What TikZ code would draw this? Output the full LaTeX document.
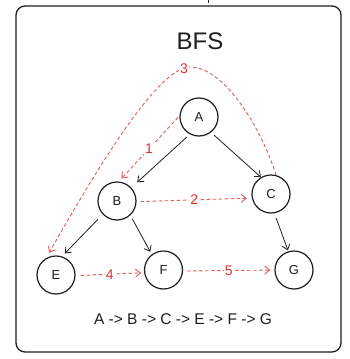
\documentclass[tikz,border=0pt]{standalone}
\usepackage{fontspec}
\setmainfont{Liberation Sans}
\usetikzlibrary{arrows.meta}
\definecolor{ink}{HTML}{1E1E1E}
\definecolor{redc}{HTML}{E03131}
\begin{document}
\begin{tikzpicture}[x=1pt,y=-1pt]
\tikzset{
 vert/.style={circle, draw=ink, line width=1.2pt, minimum size=38pt, inner sep=0pt, font=\fontsize{13}{15}\selectfont, text=ink},
 edge/.style={draw=ink, line width=0.8pt, -{Straight Barb[length=5pt,width=8pt]}},
 trav/.style={draw=redc!80, line width=0.9pt, dash pattern=on 3.5pt off 2.5pt, -{Straight Barb[length=5pt,width=8pt]}},
 num/.style={text=redc, fill=white, inner sep=1pt, font=\fontsize{14}{16}\selectfont},
}
\useasboundingbox (0,0) rectangle (350,359);
\fill[white] (0,0) rectangle (350,359);
\draw[ink, line width=1.3pt, rounded corners=9pt] (16,6) rectangle (341,352);
\draw[ink, line width=1pt] (208,0) -- (208,2.5);

\node[text=ink, font=\fontsize{24}{28}\selectfont] (title) at (200,41) {BFS};

\node[vert] (A) at (199,117) {A};
\node[vert] (B) at (117,201) {B};
\node[vert] (C) at (271,194) {C};
\node[vert] (E) at (56,275) {E};
\node[vert] (F) at (163.5,270) {F};
\node[vert] (G) at (294,270) {G};

\draw[edge, shorten <=4pt, shorten >=8pt] (A.242) -- (B.43);
\draw[edge, shorten <=4pt] (A.308) -- (C.121);
\draw[edge, shorten <=7pt, shorten >=4pt] (B.223) -- (E.72);
\draw[edge, shorten <=4pt, shorten >=3pt] (B.313) -- (F.127);
\draw[edge, shorten <=5pt, shorten >=1pt] (C.280) -- (G.107);

\draw[trav, shorten <=2pt, shorten >=4pt] (A.177) -- (B.85) node[num, pos=0.5] {1};
\draw[trav, shorten <=4pt, shorten >=5pt] (B.358) -- (C.192) node[num, pos=0.5] {2};
\coordinate (p3) at (190,67);
\draw[trav, shorten >=6pt] (C.75) .. controls (262,130) and (225,67) .. (p3) .. controls (162,67) and (110,145) .. (E.120);
\node[num] (n3) at (184,69) {3};
\draw[trav, shorten <=5pt, shorten >=3pt] (E.358) -- (F.188) node[num, pos=0.5] {4};
\draw[trav, shorten <=4pt, shorten >=4pt] (F.357) -- (G.180) node[num, pos=0.5] {5};

\node[text=ink, font=\fontsize{15.5}{18}\selectfont] (seq) at (183,319) {A -> B -> C -> E -> F -> G};
\end{tikzpicture}
\end{document}
